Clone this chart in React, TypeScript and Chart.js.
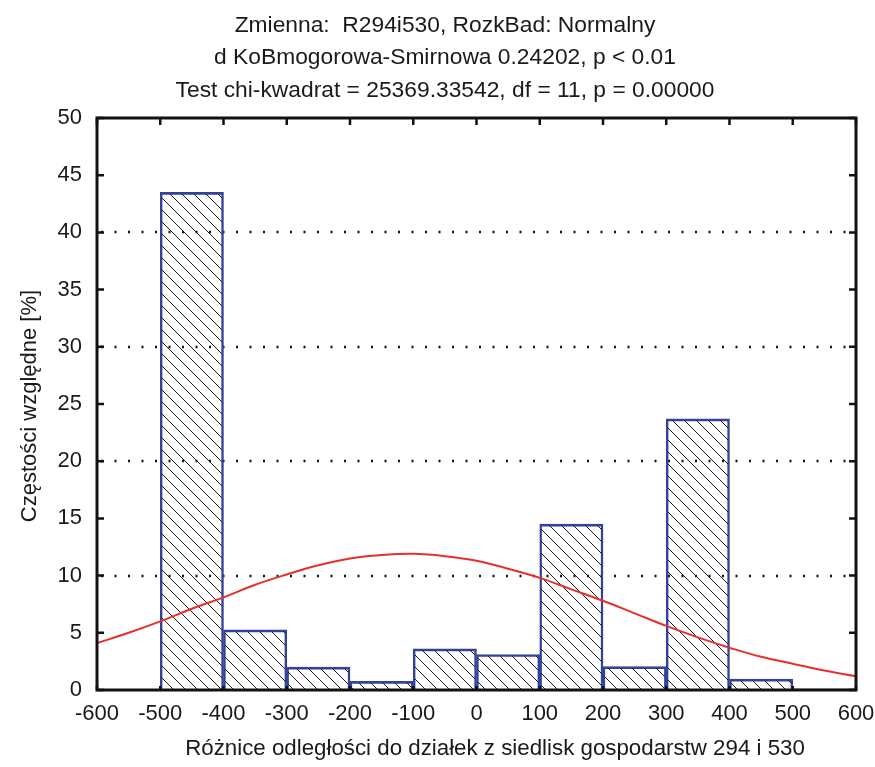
import React, { useEffect, useRef } from 'react';
import { Chart, registerables } from 'chart.js';

Chart.register(...registerables);

const titleLines = [
  'Zmienna:  R294i530, RozkBad: Normalny',
  'd KoBmogorowa-Smirnowa 0.24202, p < 0.01',
  'Test chi-kwadrat = 25369.33542, df = 11, p = 0.00000',
];
const xAxisTitle = 'Różnice odległości do działek z siedlisk gospodarstw 294 i 530';
const yAxisTitle = 'Częstości względne [%]';

// histogram bins (centre of each 100-wide class) and relative frequencies [%]
const binCenters = [-450, -350, -250, -150, -50, 50, 150, 250, 350, 450, 550];
const relFreq = [43.5, 5.25, 2.0, 0.75, 3.6, 3.1, 14.5, 2.05, 23.7, 0.95, 0.1];

// fitted normal curve
const curveX = [-600, -550, -500, -450, -400, -350, -300, -250, -200, -150, -100, -50, 0, 50, 100, 150, 200, 250, 300, 350, 400, 450, 500, 550, 600];
const curveY = [4.1, 5.0, 6.0, 7.1, 8.1, 9.2, 10.1, 10.9, 11.5, 11.8, 11.9, 11.7, 11.3, 10.6, 9.8, 8.8, 7.8, 6.7, 5.6, 4.6, 3.7, 2.9, 2.3, 1.7, 1.2];

const xTickValues = [-600, -500, -400, -300, -200, -100, 0, 100, 200, 300, 400, 500, 600];
const yTickValues = [0, 5, 10, 15, 20, 25, 30, 35, 40, 45, 50];
const gridValues = [10, 20, 30, 40];

const FONT = "'Liberation Sans', Arial, sans-serif";
const TEXT = '#1a1a1a';

const decor = {
  id: 'decor',
  beforeDatasetsDraw(chart: any) {
    const { ctx, chartArea: a, scales } = chart;
    const y = scales.y;
    ctx.save();
    ctx.strokeStyle = '#111';
    ctx.lineWidth = 2.5;
    ctx.setLineDash([2, 11.5]);
    for (const v of gridValues) {
      const py = Math.round(y.getPixelForValue(v));
      ctx.beginPath();
      ctx.moveTo(a.left + 4, py);
      ctx.lineTo(a.right, py);
      ctx.stroke();
    }
    ctx.restore();
  },
  afterDatasetsDraw(chart: any) {
    const { ctx, chartArea: a, scales } = chart;
    const { x, y } = scales;
    ctx.save();
    ctx.strokeStyle = '#111';
    ctx.lineWidth = 2.5;
    for (const v of yTickValues) {
      const py = y.getPixelForValue(v);
      ctx.beginPath();
      ctx.moveTo(a.left, py);
      ctx.lineTo(a.left + 7, py);
      ctx.moveTo(a.right, py);
      ctx.lineTo(a.right - 7, py);
      ctx.stroke();
    }
    for (const v of xTickValues) {
      const px = x.getPixelForValue(v);
      ctx.beginPath();
      ctx.moveTo(px, a.top);
      ctx.lineTo(px, a.top + 7);
      ctx.moveTo(px, a.bottom);
      ctx.lineTo(px, a.bottom - 4);
      ctx.stroke();
    }
    ctx.lineWidth = 3;
    ctx.strokeRect(a.left, a.top, a.right - a.left, a.bottom - a.top);
    ctx.restore();
  },
  afterDraw(chart: any) {
    const { ctx } = chart;
    ctx.save();
    ctx.fillStyle = TEXT;
    ctx.textAlign = 'center';
    ctx.textBaseline = 'alphabetic';
    ctx.font = `22.8px ${FONT}`;
    const baselines = [32, 64, 97];
    titleLines.forEach((t, i) => ctx.fillText(t, 445, baselines[i]));
    ctx.font = `22.3px ${FONT}`;
    ctx.fillText(xAxisTitle, 495, 755);
    ctx.translate(36, 406);
    ctx.rotate(-Math.PI / 2);
    ctx.font = `22px ${FONT}`;
    ctx.fillText(yAxisTitle, 0, 0);
    ctx.restore();
  },
};

export default function App() {
  const ref = useRef<HTMLCanvasElement | null>(null);
  useEffect(() => {
    const canvas = ref.current;
    if (!canvas) return;
    const ctx = canvas.getContext('2d')!;

    const pc = document.createElement('canvas');
    pc.width = 12;
    pc.height = 12;
    const p = pc.getContext('2d')!;
    p.strokeStyle = '#1a1a1a';
    p.lineWidth = 1;
    p.beginPath();
    for (const k of [-1, 0, 1]) {
      p.moveTo(0, k * 12);
      p.lineTo(12, 12 + k * 12);
    }
    p.stroke();
    const hatch = ctx.createPattern(pc, 'repeat');

    const chart = new Chart(ctx, {
      data: {
        datasets: [
          {
            type: 'line',
            data: curveX.map((xv, i) => ({ x: xv, y: curveY[i] })),
            borderColor: '#e5302b',
            borderWidth: 2,
            pointRadius: 0,
            tension: 0.4,
            fill: false,
            order: 0,
          } as any,
          {
            type: 'bar',
            data: binCenters.map((xv, i) => ({ x: xv, y: relFreq[i] })),
            backgroundColor: hatch as any,
            borderColor: '#33429a',
            borderWidth: { top: 2, left: 1.8, right: 1.8, bottom: 0 },
            borderSkipped: false,
            barPercentage: 1,
            categoryPercentage: 1,
            grouped: false,
            order: 1,
          } as any,
        ],
      },
      options: {
        responsive: false,
        animation: false,
        layout: { padding: { top: 118, right: 19, bottom: 0, left: 0 } },
        plugins: {
          legend: { display: false },
          title: { display: false },
          tooltip: { enabled: false },
        },
        scales: {
          x: {
            type: 'linear',
            min: -600,
            max: 600,
            offset: false,
            grid: { display: false, drawTicks: false },
            border: { display: false },
            afterBuildTicks: (s: any) => {
              s.ticks = xTickValues.map((v) => ({ value: v }));
            },
            ticks: {
              font: { family: FONT, size: 22 },
              color: TEXT,
              padding: 11,
              maxRotation: 0,
              autoSkip: false,
            },
            afterFit: (s: any) => {
              s.height = 77;
              s.paddingLeft = 0;
              s.paddingRight = 0;
            },
          },
          y: {
            type: 'linear',
            min: 0,
            max: 50,
            grid: { display: false, drawTicks: false },
            border: { display: false },
            afterBuildTicks: (s: any) => {
              s.ticks = yTickValues.map((v) => ({ value: v }));
            },
            ticks: {
              font: { family: FONT, size: 22 },
              color: TEXT,
              padding: 15,
            },
            afterFit: (s: any) => {
              s.width = 97;
              s.paddingTop = 0;
              s.paddingBottom = 0;
            },
          },
        },
      },
      plugins: [decor],
    } as any);
    return () => chart.destroy();
  }, []);

  return (
    <div style={{ position: 'fixed', left: 0, top: 0, width: 875, height: 767, background: '#fff' }}>
      <canvas ref={ref} width={875} height={767} style={{ display: 'block', width: 875, height: 767 }} />
    </div>
  );
}
